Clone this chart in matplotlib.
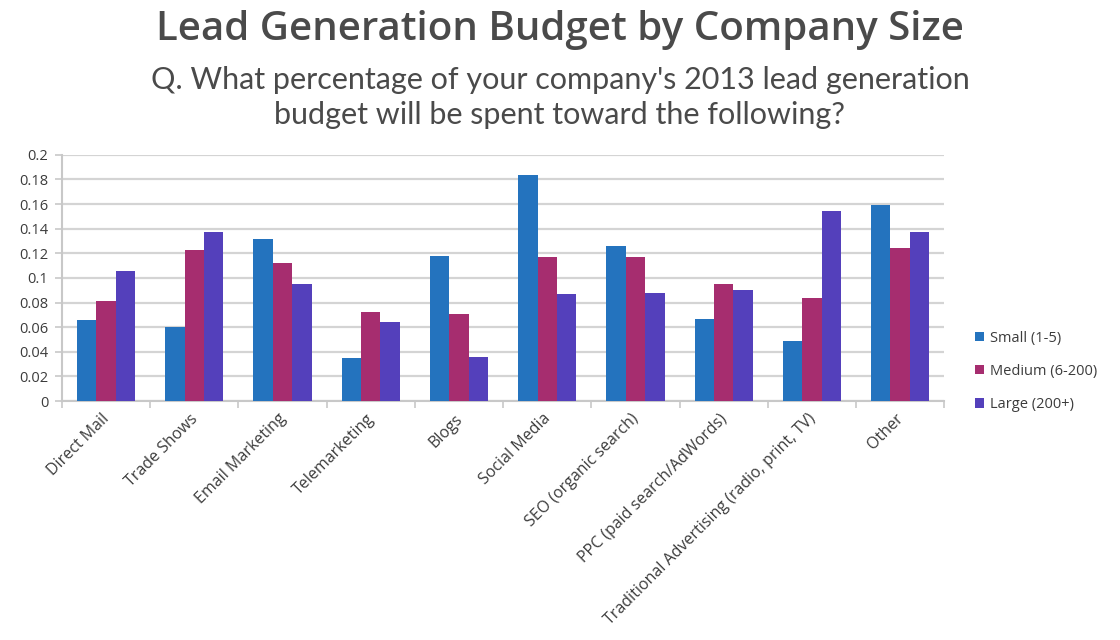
import numpy as np
import matplotlib.pyplot as plt
from matplotlib.ticker import MultipleLocator, FixedLocator, FuncFormatter

# Share of 2013 lead generation budget, by channel and company size
channels = ["Direct Mail", "Trade Shows", "Email Marketing", "Telemarketing", "Blogs",
            "Social Media", "SEO (organic search)", "PPC (paid search/AdWords)",
            "Traditional Advertising (radio, print, TV)", "Other"]
small = [0.066, 0.060, 0.132, 0.035, 0.118, 0.184, 0.126, 0.067, 0.049, 0.159]
medium = [0.081, 0.123, 0.112, 0.072, 0.071, 0.117, 0.117, 0.095, 0.084, 0.124]
large = [0.106, 0.137, 0.095, 0.064, 0.036, 0.087, 0.088, 0.090, 0.154, 0.137]
series_names = ["Small (1-5)", "Medium (6-200)", "Large (200+)"]
colors = ["#2473be", "#a62d6f", "#5440bb"]

text_gray = "#4a4a4a"
label_gray = "#3c3c3c"
plt.rcParams["font.family"] = ["Open Sans", "DejaVu Sans"]

fig = plt.figure(figsize=(11.2, 6.4), dpi=100)
ax = fig.add_axes([0.0554, 0.3734, 0.7876, 0.3846])

x = np.arange(len(channels))
width = 0.22
for i, (vals, name, c) in enumerate(zip([small, medium, large], series_names, colors)):
    ax.bar(x + (i - 1) * width, vals, width, color=c, label=name, zorder=3)

ax.set_xlim(-0.5, len(channels) - 0.5)
ax.set_ylim(0, 0.2)
ax.yaxis.set_major_locator(MultipleLocator(0.02))
ax.yaxis.set_major_formatter(FuncFormatter(lambda v, _: "0" if abs(v) < 1e-9 else f"{v:.2f}".rstrip("0")))
ax.grid(axis="y", color="#d4d4d4", linewidth=1.6, zorder=0)

# category labels ending just left of each group's centre, tick marks on boundaries
ax.set_xticks(x - 0.05)
ax.set_xticklabels(channels, rotation=45, ha="right", rotation_mode="anchor",
                   fontsize=11.5, color=label_gray)
ax.tick_params(axis="x", which="major", length=0, pad=7)
ax.xaxis.set_minor_locator(FixedLocator(np.arange(-0.5, len(channels), 1.0)))
ax.tick_params(axis="x", which="minor", length=5, color="#c8c8c8", width=1.2)
ax.tick_params(axis="y", length=5, color="#c8c8c8", width=1.2,
               labelsize=10.5, labelcolor=label_gray, pad=5)

for side in ["top", "right"]:
    ax.spines[side].set_visible(False)
for side in ["left", "bottom"]:
    ax.spines[side].set_color("#c8c8c8")
    ax.spines[side].set_linewidth(1.5)

leg = ax.legend(loc="center left", bbox_to_anchor=(1.02, 0.12), frameon=False,
                handlelength=0.6, handleheight=0.6, handletextpad=0.4,
                labelspacing=1.25, fontsize=10.5)
for t in leg.get_texts():
    t.set_color(label_gray)

fig.text(0.5, 0.953, "Lead Generation Budget by Company Size", ha="center", va="center",
         fontsize=29, fontweight="semibold", color=text_gray)
fig.text(0.5, 0.848, "Q. What percentage of your company's 2013 lead generation\n"
         "budget will be spent toward the following?", ha="center", va="center",
         fontsize=22, color=text_gray, linespacing=1.3, family=["Lato", "DejaVu Sans"])

fig.savefig("out.png", dpi=100)
